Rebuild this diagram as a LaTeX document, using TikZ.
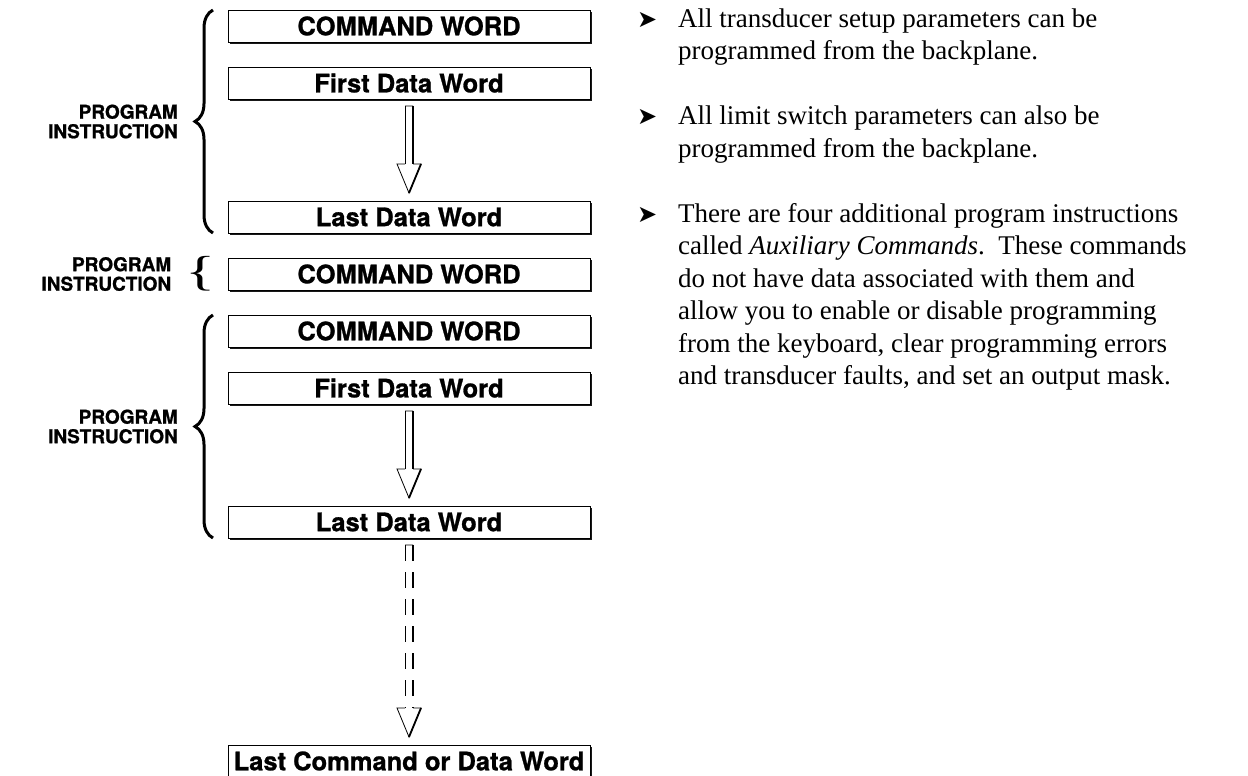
\documentclass[tikz,border=0pt]{standalone}
\usepackage{fontspec}
\setmainfont{Liberation Serif}
\newfontfamily\heavysans{TeX Gyre Heros}[BoldFeatures={FakeBold=1}]
\newfontfamily\dingfont{DejaVu Sans}
\usetikzlibrary{positioning, calc, shadows, decorations.pathreplacing}

\newcommand{\pointer}{{\dingfont\fontsize{24}{24}\selectfont ➤}}

% hollow down arrow between two words, #1 = extra style for the shaft
\newcommand{\wordarrow}[3][]{%
  \draw[shaftpen] let \p1=(#2.south), \p2=(#3.north) in
    (\x1-4,\y1-7) -- (\x1+4,\y1-7)
    (\x1-4,\y2+37) -- (\x1-12,\y2+37) -- (\x1,\y2+8) -- (\x1+12,\y2+37) -- (\x1+4,\y2+37);
  \draw[shadowpen] let \p1=(#2.south), \p2=(#3.north) in
    (\x1+12,\y2+37) -- (\x1,\y2+8);
  \draw[shaftpen,#1] let \p1=(#2.south), \p2=(#3.north) in
    (\x1-4,\y1-7) -- (\x1-4,\y2+37);
  \draw[shadowpen,#1] let \p1=(#2.south), \p2=(#3.north) in
    (\x1+4,\y1-7) -- (\x1+4,\y2+37);
}

\tikzset{
  word/.style={draw=black, line width=0.8pt, fill=white,
    minimum width=362pt, minimum height=32pt, inner sep=0pt, outer sep=0pt,
    drop shadow={shadow xshift=1.8pt, shadow yshift=-1.8pt, fill=black, opacity=0.9},
    font=\heavysans\bfseries\fontsize{25.5}{25.5}\selectfont},
  instr/.style={align=right, inner sep=0pt,
    font=\heavysans\bfseries\fontsize{19}{19.5}\selectfont},
  bigbrace/.style={decorate, decoration={brace, amplitude=18pt}, line width=3pt},
  smallbrace/.style={inner sep=0pt, font=\fontsize{42}{42}\selectfont},
  shaftpen/.style={line width=0.8pt},
  shadowpen/.style={line width=1.8pt},
  notes/.style={inner sep=0pt, font=\fontsize{27}{32.5}\selectfont},
}

\begin{document}
\begin{tikzpicture}[x=1pt, y=1pt, node distance=25pt]
  \useasboundingbox (0,0) rectangle (1248,-776);

  % first instruction
  \node[word] (cmd1) at (409,-26) {COMMAND WORD};
  \node[word, below=of cmd1] (first1) {First Data Word};
  \node[word, below=102pt of first1] (last1) {Last Data Word};
  % second instruction
  \node[word, below=of last1] (cmd2) {COMMAND WORD};
  % third instruction
  \node[word, below=of cmd2] (cmd3) {COMMAND WORD};
  \node[word, below=of cmd3] (first3) {First Data Word};
  \node[word, below=102pt of first3] (last3) {Last Data Word};
  \node[word, below=207pt of last3] (final) {Last Command or Data Word};

  \wordarrow{first1}{last1}
  \wordarrow{first3}{last3}
  \wordarrow[dash pattern=on 16pt off 11pt]{last3}{final}

  % braces and labels
  \draw[bigbrace] ([xshift=-15pt]last1.south west) -- coordinate (tip1) ([xshift=-15pt]cmd1.north west);
  \node[instr, left=35pt of tip1] (prog1) {PROGRAM\\INSTRUCTION};

  \node[smallbrace, left=12pt of cmd2] (brace2) {\scalebox{1.5}[1]{\{}};
  \node[instr, left=14pt of brace2] (prog2) {PROGRAM\\INSTRUCTION};

  \draw[bigbrace] ([xshift=-15pt]last3.south west) -- coordinate (tip3) ([xshift=-15pt]cmd3.north west);
  \node[instr, left=35pt of tip3] (prog3) {PROGRAM\\INSTRUCTION};

  % notes on the right
  \node[notes, anchor=north west] (notes) at (637,-4.25) {%
    \begin{tabular}{@{}p{41pt}@{}l@{}}
      \pointer & All transducer setup parameters can be\\
               & programmed from the backplane.\\[32.5pt]
      \pointer & All limit switch parameters can also be\\
               & programmed from the backplane.\\[32.5pt]
      \pointer & There are four additional program instructions\\
               & called \textit{Auxiliary Commands}.\ \ These commands\\
               & do not have data associated with them and\\
               & allow you to enable or disable programming\\
               & from the keyboard, clear programming errors\\
               & and transducer faults, and set an output mask.
    \end{tabular}};
\end{tikzpicture}
\end{document}
